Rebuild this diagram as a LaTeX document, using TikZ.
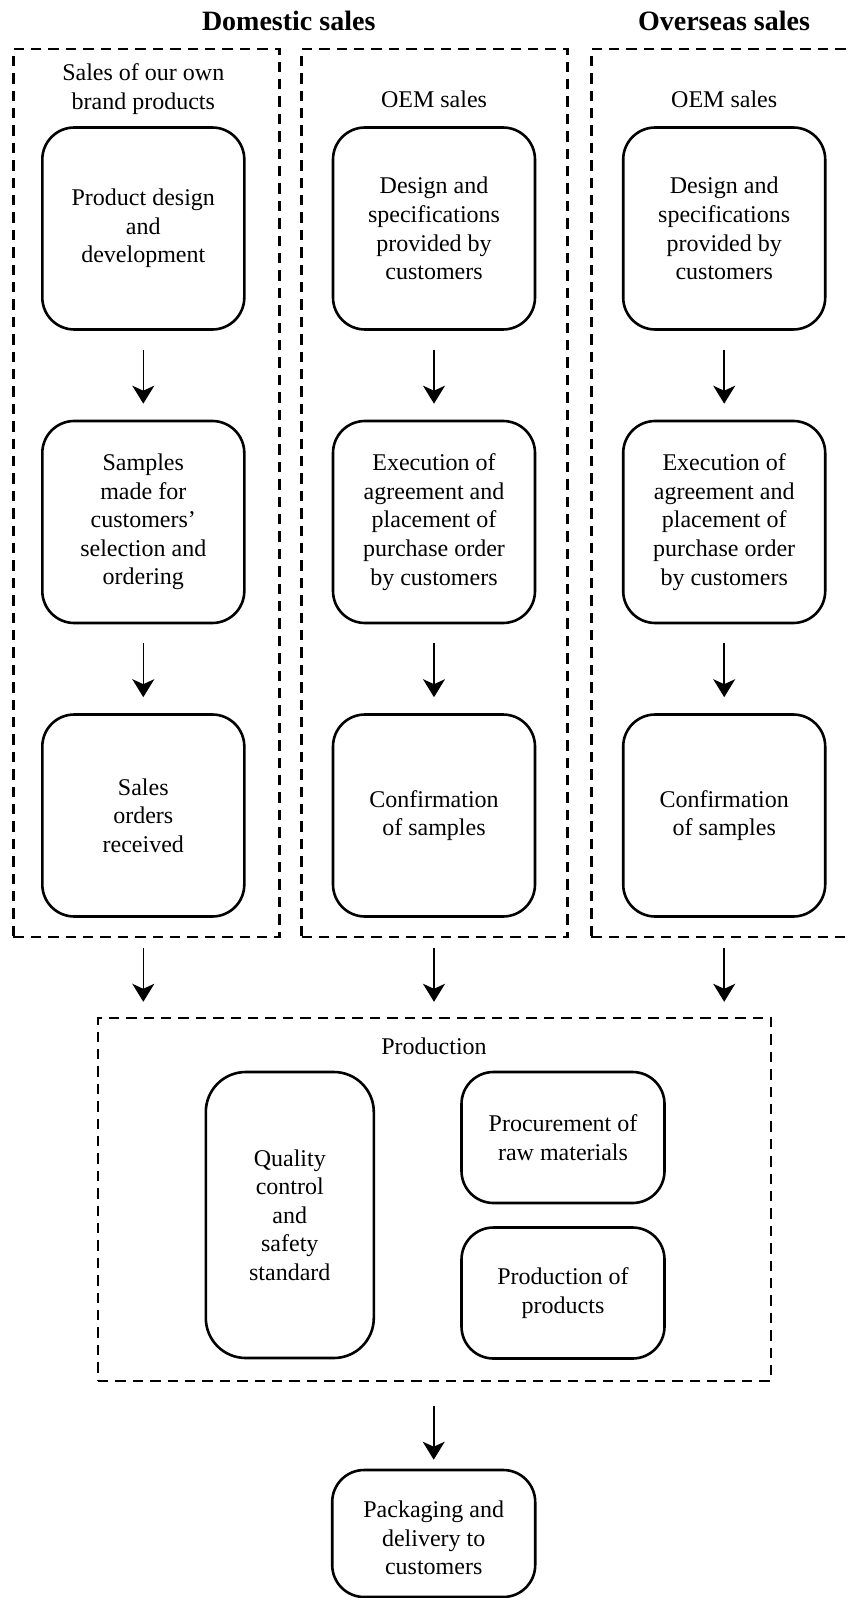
\documentclass[tikz,border=0pt]{standalone}
\usepackage{fontspec}
\setmainfont{Liberation Serif}
\usetikzlibrary{arrows.meta}
\newcommand\txtfont{\fontsize{12}{14.3}\selectfont}
\newcommand\ttlfont{\fontsize{14}{17}\selectfont\bfseries}
\begin{document}
\begin{tikzpicture}[x=0.5pt,y=-0.5pt,
  box/.style={draw,line width=1.3pt,rounded corners=16pt,minimum width=101pt,minimum height=101pt,align=center,inner sep=0pt,font=\txtfont},
  grp/.style={draw,line width=1.2pt,dash pattern=on 5.2pt off 3.5pt,minimum width=133pt,minimum height=444pt,inner sep=0pt},
  lbl/.style={align=center,inner sep=0pt,font=\txtfont},
  ttl/.style={inner sep=0pt,font=\ttlfont},
  arr/.style={-{Stealth[length=9pt,width=11pt,inset=2.5pt]},line width=0.8pt}]
\useasboundingbox (0,0) rectangle (847,1598);
\clip (0,0) rectangle (847,1598);

% titles
\node[ttl] (t1) at (288.7,21) {Domestic sales};
\node[ttl] (t2) at (724,21) {Overseas sales};

% group boxes
\node[grp] (d1) at (146.3,493) {};
\node[grp] (d2) at (434.5,493) {};
\node[grp] (d3) at (724.4,493) {};

% group labels
\node[lbl] (l1) at (143.3,89) {Sales of our own\\brand products};
\node[lbl] (l2) at (434,99) {OEM sales};
\node[lbl] (l3) at (724.2,99) {OEM sales};

% column 1
\node[box] (a1) at (143.3,228.5) {Product design\\and\\development};
\node[box] (a2) at (143.3,522) {Samples\\made for\\customers'\\selection and\\ordering};
\node[box] (a3) at (143.3,815.5) {Sales\\orders\\received};
% column 2
\node[box] (b1) at (434,228.5) {Design and\\specifications\\provided by\\customers};
\node[box] (b2) at (434,522) {Execution of\\agreement and\\placement of\\purchase order\\by customers};
\node[box] (b3) at (434,815.5) {Confirmation\\of samples};
% column 3
\node[box] (c1) at (724.2,228.5) {Design and\\specifications\\provided by\\customers};
\node[box] (c2) at (724.2,522) {Execution of\\agreement and\\placement of\\purchase order\\by customers};
\node[box] (c3) at (724.2,815.5) {Confirmation\\of samples};

% production group
\node[grp,minimum width=336.5pt,minimum height=181.5pt] (prod) at (434.5,1199.5) {};
\node[lbl] (pl) at (434,1046) {Production};
\node[box,minimum width=84pt,minimum height=143pt,rounded corners=20pt] (q) at (289.8,1215) {Quality\\control\\and\\safety\\standard};
\node[box,minimum width=101.5pt,minimum height=65.5pt] (pr) at (563,1137.5) {Procurement of\\raw materials};
\node[box,minimum width=101.5pt,minimum height=65.5pt] (pp) at (563,1293) {Production of\\products};

% packaging
\node[box,minimum width=101.5pt,minimum height=63.5pt] (pk) at (433.7,1533.5) {};
\node[lbl] (pkt) at (433.7,1538) {Packaging and\\delivery to\\customers};

% arrows
\foreach \u/\v in {a1/a2,a2/a3,b1/b2,b2/b3,c1/c2,c2/c3}
  \draw[arr,shorten <=9.5pt,shorten >=8pt] (\u.south) -- (\v.north);
\foreach \u/\d in {a3/d1,b3/d2,c3/d3}
  \draw[arr,shorten <=5pt,shorten >=7.5pt] (\u.south |- \d.south) -- (\u.south |- prod.north);
\draw[arr,shorten <=12pt,shorten >=4.5pt] (pk.north |- prod.south) -- (pk.north);
\end{tikzpicture}
\end{document}
